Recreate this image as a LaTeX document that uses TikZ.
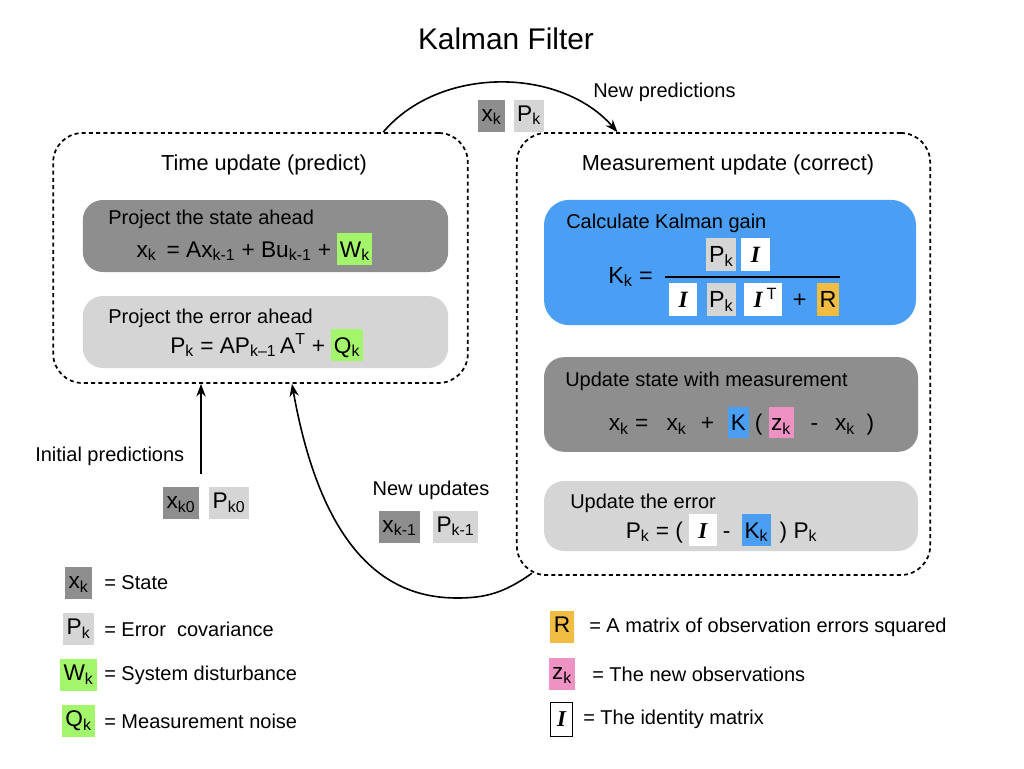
\documentclass[tikz,border=0pt]{standalone}
\usepackage{fontspec}
\setmainfont{Liberation Sans}
\newfontfamily\idfont{Liberation Serif}
\usetikzlibrary{arrows.meta,positioning,calc}
\definecolor{ink}{HTML}{000000}
\definecolor{stategrey}{HTML}{8E8E8E}
\definecolor{errgrey}{HTML}{D6D5D6}
\definecolor{noisegreen}{HTML}{A3F66B}
\definecolor{gainblue}{HTML}{4A9FF5}
\definecolor{obsorange}{HTML}{F0BD42}
\definecolor{obspink}{HTML}{EE91C3}
\newcommand{\titlefont}{\fontsize{22.4}{27}\selectfont}
\newcommand{\headfont}{\fontsize{16.3}{20}\selectfont}
\newcommand{\lblfont}{\fontsize{15}{18}\selectfont}
\newcommand{\fmlfont}{\fontsize{17}{20}\selectfont}
\newcommand{\gainfont}{\fontsize{17.5}{21}\selectfont}
\newcommand{\ssub}[2]{#1\textsubscript{#2}}
\newcommand{\idm}{{\idfont\bfseries\itshape I}}
\newcommand{\chip}[2]{{\setlength{\fboxsep}{0.11em}\colorbox{#1}{\rule[-0.24em]{0pt}{1.19em}#2}}}
\newcommand{\idchip}{\chip{white}{\hspace{0.3em}\idm\hspace{0.3em}}}
\tikzset{
  phase/.style={draw=ink,line width=1.3pt,dash pattern=on 3pt off 2.4pt,rounded corners=22pt,inner sep=0pt},
  panel/.style={rounded corners=15pt,inner sep=0pt},
  head/.style={font=\headfont,inner sep=0pt},
  lbl/.style={font=\lblfont,inner sep=0pt},
  fml/.style={font=\fmlfont,inner sep=0pt},
  chip/.style={font=\fmlfont,inner xsep=2.5pt,inner ysep=0pt,minimum height=24pt,
               text height=12pt,text depth=3.5pt},
  arr/.style={-{Stealth[length=9.5pt,width=7pt]},line width=1.2pt,draw=ink},
  fracbar/.style={line width=1.5pt,draw=ink},
}

\begin{document}
\begin{tikzpicture}[x=0.75pt,y=-0.75pt]
  \useasboundingbox (0,0) rectangle (1024,768);
  \fill[white] (0,0) rectangle (1024,768);

  \node[font=\titlefont,inner sep=0pt] (title) at (506,39) {Kalman Filter};

  % ---------------------------------------------------------------- predict
  \node[phase,minimum width=311pt,minimum height=187.5pt] (timebox) at (260.5,258) {};
  \node[head] (timehd) at (264,165) {Time update (predict)};
  \node[panel,fill=stategrey,minimum width=274pt,minimum height=54pt] (projx) at (265.5,236) {};
  \node[lbl,anchor=west] (projxhd) at (108,219) {Project the state ahead};
  \node[fml] (projxeq) at (254.5,249)
       {\ssub{x}{k} \,= A\ssub{x}{k-1} + B\ssub{u}{k-1} + \chip{noisegreen}{\ssub{W}{k}}};
  \node[panel,fill=errgrey,minimum width=274pt,minimum height=54pt] (projp) at (265.5,332) {};
  \node[lbl,anchor=west] (projphd) at (108,318) {Project the error ahead};
  \node[fml] (projpeq) at (266.5,345)
       {\ssub{P}{k} = A\ssub{P}{k–1}\,A\textsuperscript{T} + \chip{noisegreen}{\ssub{Q}{k}}};

  % ---------------------------------------------------------------- correct
  \node[phase,minimum width=310pt,minimum height=331.5pt] (measbox) at (723.5,354) {};
  \node[head] (meashd) at (728,165) {Measurement update (correct)};
  \node[panel,fill=gainblue,rounded corners=19pt,minimum width=279pt,minimum height=94pt] (gain) at (730,262.5) {};
  \node[lbl,anchor=west] (gainhd) at (566,223) {Calculate Kalman gain};
  \node[font=\gainfont,inner sep=0pt,anchor=west] (kk) at (608,277) {\ssub{K}{k} =};
  \node[font=\gainfont,inner sep=0pt] (knum) at (738,254.5)
       {\chip{errgrey}{\ssub{P}{k}}\hspace{4pt}\idchip};
  \node[font=\gainfont,inner sep=0pt] (kden) at (754,299.5)
       {\idchip\hspace{7pt}\chip{errgrey}{\ssub{P}{k}}\hspace{6pt}\chip{white}{\hspace{0.3em}\idm\,\textsuperscript{T}\hspace{0.1em}}\hspace{8pt}+\hspace{8pt}\chip{obsorange}{R}};
  \draw[fracbar] (665,277) -- (840,277);

  \node[panel,fill=stategrey,minimum width=280.5pt,minimum height=71pt] (updx) at (731,404.5) {};
  \node[lbl,anchor=west] (updxhd) at (565,381) {Update state with measurement};
  \node[fml] (updxeq) at (741.5,422.5)
       {\ssub{x}{k} = \hspace{9pt}\ssub{x}{k} \hspace{6pt}+ \hspace{6pt}\chip{gainblue}{K} ( \chip{obspink}{\ssub{z}{k}} \hspace{8pt}- \hspace{8pt}\ssub{x}{k} \hspace{4pt})};

  \node[panel,fill=errgrey,minimum width=280.5pt,minimum height=52.5pt] (updp) at (731,516) {};
  \node[lbl,anchor=west] (updphd) at (570,503) {Update the error};
  \node[fml] (updpeq) at (721.5,530)
       {\ssub{P}{k} = ( \idchip\ - \hspace{4pt}\chip{gainblue}{\ssub{K}{k}}\hspace{2pt} ) \ssub{P}{k}};

  % ---------------------------------------------------------------- hand-overs
  \node[chip,fill=stategrey] (xtop) at (491.5,115.5) {\ssub{x}{k}};
  \node[chip,fill=errgrey] (ptop) at (529,115.5) {\ssub{P}{k}};
  \node[lbl,anchor=west] (newpred) at (593,92) {New predictions};

  \node[lbl,anchor=west] (initlbl) at (35,456) {Initial predictions};
  \node[chip,fill=stategrey] (xkzero) at (181,503) {\ssub{x}{k0}};
  \node[chip,fill=errgrey] (pkzero) at (229,503) {\ssub{P}{k0}};
  \coordinate (initpt) at (201,474);

  \node[lbl] (newupd) at (431,490) {New updates};
  \node[chip,fill=stategrey] (xprev) at (399.5,526.5) {\ssub{x}{k-1}};
  \node[chip,fill=errgrey] (pprev) at (455.5,526.5) {\ssub{P}{k-1}};

  \draw[arr] (initpt) -- (initpt |- timebox.south);
  \draw[arr] ([xshift=92pt]timebox.north) .. controls +(57,-67) and +(-57,-65) .. ([xshift=-79.5pt]measbox.north);
  \draw[arr] ([xshift=12pt,yshift=2pt]measbox.south west) .. controls +(-28,20) and +(28,0) .. (457,598)
             .. controls +(-57,0) and +(33,185) .. ([xshift=23.6pt]timebox.south);

  % ---------------------------------------------------------------- legend
  \node[chip,fill=stategrey] (legx) at (78.5,583) {\ssub{x}{k}};
  \node[lbl,anchor=west] at (104,583) {= State};
  \node[chip,fill=errgrey] (legp) at (78.5,629) {\ssub{P}{k}};
  \node[lbl,anchor=west] at (104,629) {= Error~ covariance};
  \node[chip,fill=noisegreen] (legw) at (78.5,675) {\ssub{W}{k}};
  \node[lbl,anchor=west] at (104,675) {= System disturbance};
  \node[chip,fill=noisegreen] (legq) at (78.5,721) {\ssub{Q}{k}};
  \node[lbl,anchor=west] at (104,721) {= Measurement noise};

  \node[chip,fill=obsorange] (legr) at (562,627) {R};
  \node[lbl,anchor=west] at (589,627) {= A matrix of observation errors squared};
  \node[chip,fill=obspink] (legz) at (562,674) {\ssub{z}{k}};
  \node[lbl,anchor=west] at (592,674) {= The new observations};
  \node[draw=ink,line width=0.8pt,fill=white,inner sep=0pt,minimum width=17pt,minimum height=26pt,
        font=\fmlfont] (legi) at (561.5,719.5) {\idm};
  \node[lbl,anchor=west] at (583,719.5) {= The identity matrix};
\end{tikzpicture}
\end{document}
